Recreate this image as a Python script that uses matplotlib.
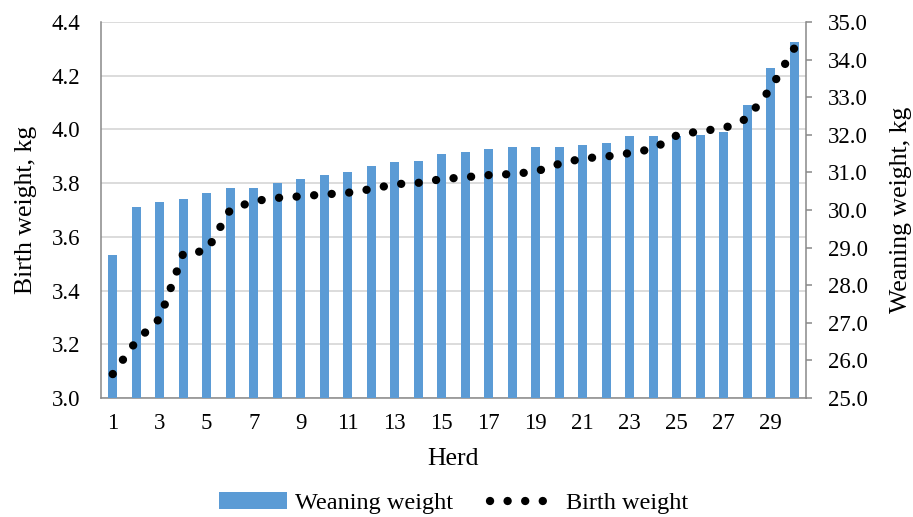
import matplotlib
matplotlib.use("Agg")
import matplotlib.pyplot as plt
import numpy as np

plt.rcParams['font.family'] = ['Liberation Serif', 'DejaVu Serif']

# herd number, sorted by birth weight
herd = np.arange(1, 31)
weaning_weight = [28.81, 30.07, 30.22, 30.28, 30.46, 30.59, 30.59, 30.72, 30.82, 30.93,
                  31.00, 31.17, 31.27, 31.31, 31.48, 31.55, 31.61, 31.68, 31.68, 31.68,
                  31.72, 31.79, 31.96, 31.96, 31.96, 31.99, 32.08, 32.78, 33.77, 34.48]
birth_weight = [3.089, 3.212, 3.296, 3.538, 3.548, 3.701, 3.733, 3.745, 3.751, 3.758,
                3.764, 3.778, 3.796, 3.801, 3.815, 3.822, 3.830, 3.834, 3.843, 3.872,
                3.892, 3.899, 3.912, 3.928, 3.978, 3.994, 4.004, 4.041, 4.153, 4.302]
xtick_labels = [str(h) for h in herd[::2]]
left_ticks = [3.0, 3.2, 3.4, 3.6, 3.8, 4.0, 4.2, 4.4]
right_ticks = np.arange(25, 36, 1)

blue = '#5b9bd5'
grey = '#898989'

fig = plt.figure(figsize=(9.13, 5.17), dpi=100)
ax = fig.add_axes([0.1106, 0.2302, 0.7722, 0.7272])
ax2 = ax.twinx()

# left axis (birth weight) owns the grid, drawn under the bars
ax.set_ylim(3.0, 4.4)
ax.set_yticks(left_ticks)
ax.set_yticklabels(['%.1f' % t for t in left_ticks])
ax.grid(axis='y', color='#d9d9d9', lw=1.3)
ax.set_axisbelow(True)
ax.set_xlim(0.5, 30.5)
ax.set_xticks(herd[::2])
ax.set_xticklabels(xtick_labels)
ax.tick_params(axis='y', length=0, pad=15, labelsize=16.5)
ax.tick_params(axis='x', length=0, pad=11, labelsize=16.5)
for s in ['top', 'right']:
    ax.spines[s].set_visible(False)
for s in ['left', 'bottom']:
    ax.spines[s].set_color(grey)
    ax.spines[s].set_linewidth(1.1)

# right axis (weaning weight) with the bars
bars = ax2.bar(herd, weaning_weight, width=0.37, color=blue, label='Weaning weight')
ax2.set_ylim(25, 35)
ax2.set_yticks(right_ticks)
ax2.set_yticklabels(['%.1f' % t for t in right_ticks])
ax2.tick_params(axis='y', length=4.5, width=1.1, color=grey, pad=11, labelsize=16.5)
for s in ['top', 'left', 'bottom']:
    ax2.spines[s].set_visible(False)
ax2.spines['right'].set_color(grey)
ax2.spines['right'].set_linewidth(1.1)

# birth weight line on top of bars but in left-axis units
line, = ax2.plot(herd, birth_weight, transform=ax.transData, color='black', lw=6,
                 linestyle=(0, (0.01, 2.1)), dash_capstyle='round', label='Birth weight')

ax.set_xlabel('Herd', fontsize=18.5)
ax.xaxis.set_label_coords(0.5, -0.133)
ax.set_ylabel('Birth weight, kg', fontsize=18.5)
ax.yaxis.set_label_coords(-0.0908, 0.5)
ax2.set_ylabel('Weaning weight, kg', fontsize=18.5)
ax2.yaxis.set_label_coords(1.119, 0.5)

fig.legend([bars, line], ['Weaning weight', 'Birth weight'], loc='center',
           bbox_to_anchor=(0.497, 0.027), ncol=2, frameon=False, fontsize=17.5,
           handlelength=2.8, columnspacing=1.5, handletextpad=0.35)

fig.savefig('out.png', dpi=100)
